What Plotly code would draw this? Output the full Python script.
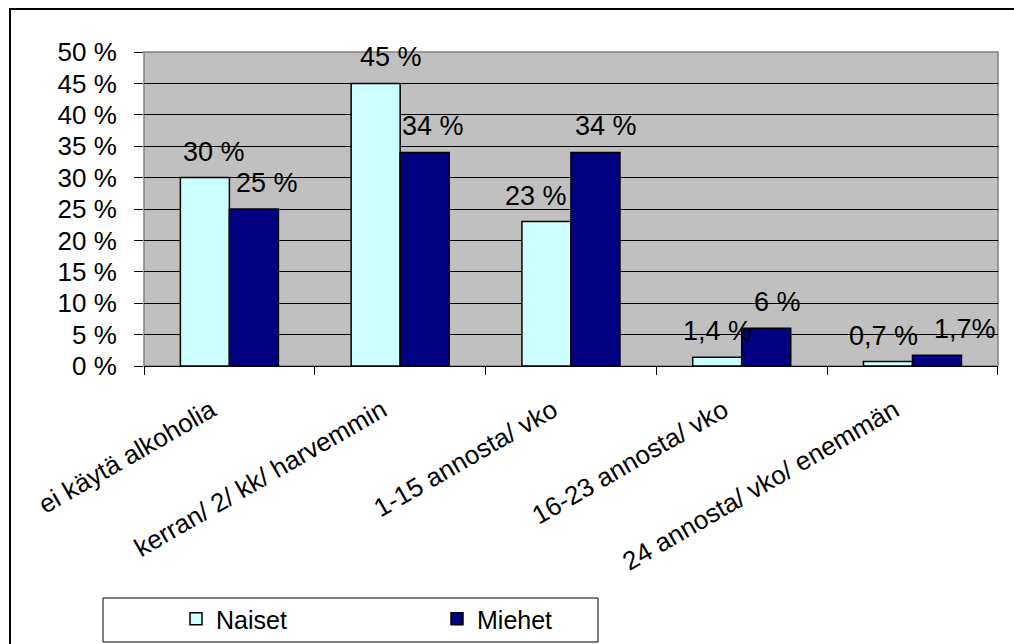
import plotly.graph_objects as go

# Alcohol use by category, share of respondents (%)
categories = [
    "ei käytä alkoholia",
    "kerran/ 2/ kk/ harvemmin",
    "1-15 annosta/ vko",
    "16-23 annosta/ vko",
    "24 annosta/ vko/ enemmän",
]
naiset = [30, 45, 23, 1.4, 0.7]
miehet = [25, 34, 34, 6, 1.7]
naiset_labels = ["30 %", "45 %", "23 %", "1,4 %", "0,7 %"]
miehet_labels = ["25 %", "34 %", "34 %", "6 %", "1,7%"]
y_ticks = [0, 5, 10, 15, 20, 25, 30, 35, 40, 45, 50]
y_tick_labels = [f"{v} %" for v in y_ticks]

# horizontal nudges (px) for the value labels, so neighbours do not collide
naiset_nudge = [9, 15, -10, 0, -4]
miehet_nudge = [13, 8, 11, 11, 28]

FONT = "Liberation Sans, Arial, sans-serif"
W, H = 1014, 644
L, R, T, B = 144, 998, 52, 366  # plot area in pixels
BARGAP = 0.426


def px_x(p):
    return (p - L) / (R - L)


def px_y(p):
    return (B - p) / (B - T)


fig = go.Figure()
fig.add_trace(go.Bar(
    name="Naiset", x=categories, y=naiset,
    marker=dict(color="#CCFFFF", line=dict(color="black", width=1.5)),
))
fig.add_trace(go.Bar(
    name="Miehet", x=categories, y=miehet,
    marker=dict(color="#000080", line=dict(color="black", width=1.5)),
))

# value labels sit above each bar of the group
cat_px = (R - L) / len(categories)
half_bar = cat_px * (1 - BARGAP) / 4
annotations = []
for values, labels, nudges, side in ((naiset, naiset_labels, naiset_nudge, -1),
                                     (miehet, miehet_labels, miehet_nudge, 1)):
    for c, v, t, n in zip(categories, values, labels, nudges):
        annotations.append(dict(
            x=c, y=v, xref="x", yref="y", text=t, showarrow=False,
            xanchor="center", yanchor="bottom",
            xshift=side * half_bar + n, yshift=9,
            font=dict(size=27, family=FONT, color="black"),
        ))

fig.update_layout(
    width=W, height=H,
    margin=dict(l=L, r=W - R, t=T, b=H - B, autoexpand=False),
    paper_bgcolor="white",
    plot_bgcolor="#C0C0C0",
    font=dict(family=FONT, size=25, color="black"),
    barmode="group",
    bargap=BARGAP,
    bargroupgap=0,
    showlegend=True,
    legend=dict(
        orientation="h",
        x=px_x(176), y=px_y(596), xanchor="left", yanchor="top",
        entrywidth=216, entrywidthmode="pixels",
        font=dict(size=25, family=FONT, color="black"),
        bgcolor="rgba(0,0,0,0)", borderwidth=0,
        traceorder="normal",
    ),
    annotations=annotations,
    shapes=[
        # outer chart frame
        dict(type="rect", xref="paper", yref="paper",
             x0=px_x(10), x1=px_x(1040), y0=px_y(9), y1=px_y(680),
             line=dict(color="black", width=2), fillcolor="rgba(0,0,0,0)"),
        # plot area border
        dict(type="rect", xref="paper", yref="paper",
             x0=0, x1=1, y0=0, y1=1,
             line=dict(color="#808080", width=1.5), fillcolor="rgba(0,0,0,0)",
             layer="below"),
        # legend frame
        dict(type="rect", xref="paper", yref="paper",
             x0=px_x(103), x1=px_x(598), y0=px_y(598), y1=px_y(642),
             line=dict(color="black", width=1), fillcolor="rgba(0,0,0,0)"),
    ],
)

fig.update_yaxes(
    range=[0, 50], tickmode="array", tickvals=y_ticks, ticktext=y_tick_labels,
    showgrid=True, gridcolor="black", gridwidth=1,
    ticks="outside", ticklen=9, tickcolor="black", tickwidth=1,
    ticklabelstandoff=12,
    showline=False, zeroline=False,
    tickfont=dict(size=26, family=FONT),
)
fig.update_xaxes(
    tickangle=-30, tickson="boundaries",
    ticks="outside", ticklen=8, tickcolor="black", tickwidth=1,
    showline=True, linecolor="black", linewidth=1,
    ticklabelstandoff=18, ticklabelshift=-18,
    tickfont=dict(size=26, family=FONT),
    showgrid=False,
)

fig.write_html("out.html")
